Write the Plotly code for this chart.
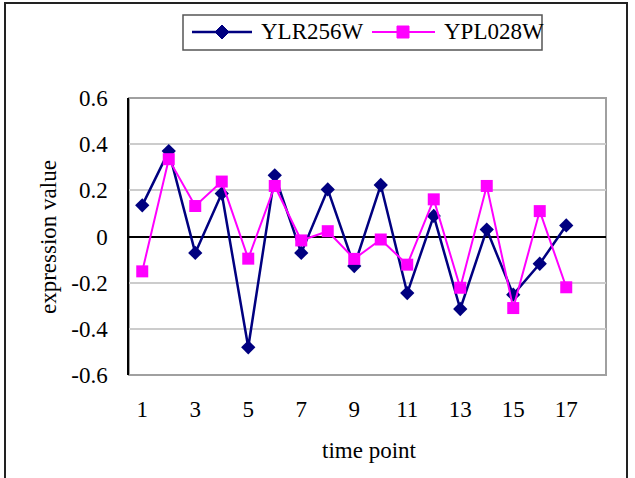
import plotly.graph_objects as go

# ---- data ----
time_points = list(range(1, 18))
ylr256w = [0.135, 0.370, -0.071, 0.186, -0.480, 0.265, -0.071, 0.204, -0.128,
           0.223, -0.245, 0.089, -0.314, 0.030, -0.252, -0.118, 0.048]
ypl028w = [-0.151, 0.335, 0.132, 0.238, -0.096, 0.219, -0.017, 0.023, -0.097,
           -0.013, -0.122, 0.161, -0.222, 0.219, -0.310, 0.110, -0.220]
series_names = ["YLR256W", "YPL028W"]
x_tick_vals = [1, 3, 5, 7, 9, 11, 13, 15, 17]
y_tick_vals = [-0.6, -0.4, -0.2, 0, 0.2, 0.4, 0.6]
y_tick_text = ["-0.6", "-0.4", "-0.2", "0", "0.2", "0.4", "0.6"]
x_title = "time point"
y_title = "expression value"

# ---- layout geometry ----
W, H = 635, 478
L, R, T, B = 129, 29, 98, 103
PW, PH = W - L - R, H - T - B
FONT = "Liberation Serif"
FS = 23
NAVY = "#000080"
MAG = "#FF00FF"


def px(X):
    return (X - L) / PW


def py(Y):
    return (H - B - Y) / PH


fig = go.Figure()
fig.add_trace(go.Scatter(
    x=time_points, y=ylr256w, name=series_names[0], mode="lines+markers",
    line=dict(color=NAVY, width=2.5),
    marker=dict(symbol="diamond", size=11, color=NAVY),
))
fig.add_trace(go.Scatter(
    x=time_points, y=ypl028w, name=series_names[1], mode="lines+markers",
    line=dict(color=MAG, width=2),
    marker=dict(symbol="square", size=12, color=MAG),
))

shapes = []
# outer chart border
shapes.append(dict(type="rect", xref="paper", yref="paper",
                   x0=px(5), x1=px(627), y0=py(492), y1=py(3),
                   line=dict(color="#222222", width=2), layer="above"))
# plot area border
shapes.append(dict(type="rect", xref="paper", yref="paper",
                   x0=0, x1=1, y0=0, y1=1,
                   line=dict(color="#a0a0a0", width=2), layer="below"))
# legend box
shapes.append(dict(type="rect", xref="paper", yref="paper",
                   x0=px(183), x1=px(542), y0=py(50), y1=py(15),
                   line=dict(color="#555555", width=1.5), layer="above"))
LY = 32
# legend entry 1
shapes.append(dict(type="line", xref="paper", yref="paper",
                   x0=px(192), x1=px(252), y0=py(LY), y1=py(LY),
                   line=dict(color=NAVY, width=2.5)))
cx, r = 222, 7
shapes.append(dict(type="path", xref="paper", yref="paper",
                   path=f"M {px(cx-r)},{py(LY)} L {px(cx)},{py(LY-r)} L {px(cx+r)},{py(LY)} L {px(cx)},{py(LY+r)} Z",
                   fillcolor=NAVY, line=dict(color=NAVY, width=1)))
# legend entry 2
shapes.append(dict(type="line", xref="paper", yref="paper",
                   x0=px(372), x1=px(435), y0=py(LY), y1=py(LY),
                   line=dict(color=MAG, width=2)))
cx, r = 403, 6
shapes.append(dict(type="rect", xref="paper", yref="paper",
                   x0=px(cx-r), x1=px(cx+r), y0=py(LY+r), y1=py(LY-r),
                   fillcolor=MAG, line=dict(color=MAG, width=1)))

annotations = [
    dict(text=series_names[0], xref="paper", yref="paper", x=px(259), y=py(LY),
         xanchor="left", yanchor="middle", showarrow=False,
         font=dict(family=FONT, size=FS, color="black")),
    dict(text=series_names[1], xref="paper", yref="paper", x=px(442), y=py(LY),
         xanchor="left", yanchor="middle", showarrow=False,
         font=dict(family=FONT, size=FS, color="black")),
    dict(text=x_title, xref="paper", yref="paper", x=px(369), y=py(450),
         xanchor="center", yanchor="middle", showarrow=False,
         font=dict(family=FONT, size=FS, color="black")),
    dict(text=y_title, xref="paper", yref="paper", x=px(48), y=py(237),
         xanchor="center", yanchor="middle", showarrow=False, textangle=-90,
         font=dict(family=FONT, size=FS, color="black")),
]

fig.update_layout(
    width=W, height=H,
    margin=dict(l=L, r=R, t=T, b=B, autoexpand=False),
    paper_bgcolor="white", plot_bgcolor="white",
    showlegend=False,
    font=dict(family=FONT, size=FS, color="black"),
    shapes=shapes, annotations=annotations,
    xaxis=dict(range=[0.5, 18.5], tickvals=x_tick_vals,
               showgrid=False, zeroline=False, showline=False, ticks="",
               ticklabelstandoff=18, automargin=False,
               tickfont=dict(family=FONT, size=FS, color="black")),
    yaxis=dict(range=[-0.6, 0.6], tickvals=y_tick_vals, ticktext=y_tick_text,
               showgrid=True, gridcolor="#cccccc", gridwidth=1.5,
               zeroline=True, zerolinecolor="black", zerolinewidth=1.5,
               showline=True, linecolor="black", linewidth=1.5, ticks="",
               ticklabelstandoff=15, automargin=False,
               tickfont=dict(family=FONT, size=FS, color="black")),
)

fig.write_html("out.html")
